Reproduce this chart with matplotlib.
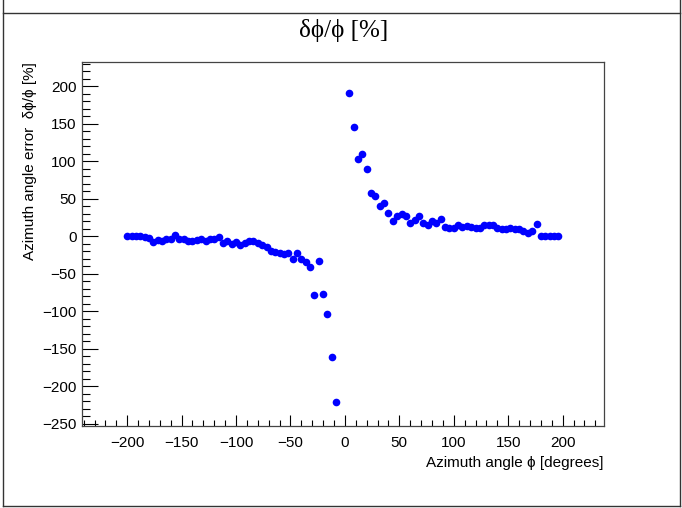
import matplotlib
matplotlib.use("Agg")
import matplotlib.pyplot as plt
from matplotlib.lines import Line2D
from matplotlib.ticker import MultipleLocator, FuncFormatter
import numpy as np

# ---- data ----
x_left = list(range(-200, -7, 4))
y_left = [0, 0, 0, 0, -1, -2, -8, -5.5, -6, -4,
          -3.5, 1, -3.5, -4, -7, -7, -5.5, -4, -6, -4,
          -4, -1, -9.5, -7, -11, -8, -12, -9, -6, -6,
          -9, -12, -14, -20, -21, -22, -24, -23, -30, -23,
          -30, -35, -41, -79, -33, -77, -104, -161, -221]
x_right = list(range(4, 197, 4))
y_right = [191, 146, 102.6, 108.8, 89.5, 57.5, 53, 40, 44.3, 31,
           19.7, 26.8, 29, 26.3, 17, 21.5, 26.8, 18, 14.5, 20.2,
           17, 23.2, 12.3, 11.4, 11.4, 14.9, 12.7, 14, 12.7, 11.4,
           11.4, 14.9, 14.5, 14.9, 11.4, 9.2, 10.1, 11.4, 10.1, 9.2,
           7, 4.8, 7, 15.8, 0, 0, 0, 0, 0]

title = "δϕ/ϕ [%]"
xlabel = "Azimuth angle ϕ [degrees]"
ylabel = "Azimuth angle error  δϕ/ϕ [%]"

W, H = 682, 508
fig = plt.figure(figsize=(W / 100, H / 100), dpi=100)
fig.patch.set_facecolor("white")

L, R, T, B = 82, 604, 62, 426
ax = fig.add_axes([L / W, 1 - B / H, (R - L) / W, (B - T) / H])

x = x_left + x_right
y = y_left + y_right
ax.plot(x, y, linestyle="none", marker="o", ms=5.5, color="#0000ff",
        markeredgewidth=0)

ax.set_xlim(-241.5, 238)
ax.set_ylim(-253, 232)

sans = ["Liberation Sans", "DejaVu Sans"]
fmt = FuncFormatter(lambda v, p: ("%d" % v).replace("-", "\u2212"))
ax.xaxis.set_major_locator(MultipleLocator(50))
ax.xaxis.set_minor_locator(MultipleLocator(10))
ax.yaxis.set_major_locator(MultipleLocator(50))
ax.yaxis.set_minor_locator(MultipleLocator(10))
ax.xaxis.set_major_formatter(fmt)
ax.yaxis.set_major_formatter(fmt)

ax.tick_params(axis="both", which="both", direction="in", top=False, right=False,
               color="black", width=0.8)
ax.tick_params(axis="y", which="major", length=11.3, pad=4)
ax.tick_params(axis="y", which="minor", length=5.6)
ax.tick_params(axis="x", which="major", length=7.9, pad=7)
ax.tick_params(axis="x", which="minor", length=4.0)
for lab in ax.get_xticklabels() + ax.get_yticklabels():
    lab.set_family(sans)
    lab.set_fontsize(11)
for s in ax.spines.values():
    s.set_color("#444444")
    s.set_linewidth(0.9)

fig.text(344 / W, 1 - 31 / H, title, ha="center", va="center",
         fontsize=18, family=["Liberation Serif", "DejaVu Serif"])
fig.text(R / W, 1 - 463 / H, xlabel, ha="right", va="center",
         fontsize=11, family=sans)
fig.text(30 / W, 1 - T / H, ylabel, ha="center", va="top", rotation=90,
         fontsize=11, family=sans)

# canvas frame lines
for (x0, y0, x1, y1) in [(3, 0, 3, 506), (3, 506, 680, 506), (680, 0, 680, 506),
                         (3, 13, 680, 13)]:
    fig.add_artist(Line2D([x0 / W, x1 / W], [1 - y0 / H, 1 - y1 / H],
                          transform=fig.transFigure, color="#333333", lw=1))

fig.savefig("out.png", dpi=100, facecolor="white")
